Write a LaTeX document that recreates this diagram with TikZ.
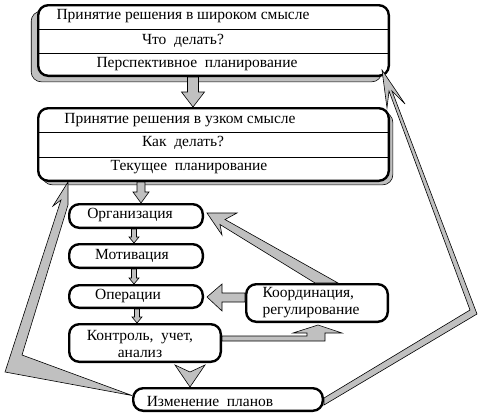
\documentclass[tikz,border=0pt]{standalone}
\usepackage{fontspec}
\setmainfont{Liberation Serif}
\usetikzlibrary{calc,shadows}
\definecolor{silver}{RGB}{192,192,192}
\newcommand{\fatdown}[6]{%
  \draw[fatarrow] ($(#1.south -| #3,0)+(-#4,0)$) -- ($(#2.north -| #3,0)+(-#4,-#6)$)
    -- ($(#2.north -| #3,0)+(-#5,-#6)$) -- (#2.north -| #3,0)
    -- ($(#2.north -| #3,0)+(#5,-#6)$) -- ($(#2.north -| #3,0)+(#4,-#6)$)
    -- ($(#1.south -| #3,0)+(#4,0)$) -- cycle;}

\begin{document}
\begin{tikzpicture}[x=1pt, y=-1pt,
                    every node/.style={font=\fontsize{15.5}{17}\selectfont},
                    bigbox/.style={draw, line width=2.4pt, rounded corners=10pt, fill=white,
                                   inner sep=0pt},
                    smallbox/.style={draw, line width=2.4pt, rounded corners=10pt, fill=white,
                                     inner sep=0pt},
                    rowline/.style={line width=0.8pt},
                    fatarrow/.style={draw=black, line width=0.6pt, fill=silver, line join=miter}]
                    \useasboundingbox (0,0) rectangle (482,418);
                    \node[bigbox, minimum width=350.6pt, minimum height=70.6pt,
                          general shadow={shadow xshift=-7pt, shadow yshift=-6pt, fill=silver,
                                          draw=black, line width=0.6pt}]
                          (wide) at (213.5,40.5) {};
                    \draw[rowline] (wide.west |- 0,29) -- (wide.east |- 0,29);
                    \draw[rowline] (wide.west |- 0,53) -- (wide.east |- 0,53);
                    \node (wideA) at (183,16) {Принятие решения в широком смысле};
                    \node (wideB) at (183,41) {Что~ делать?};
                    \node (wideC) at (197,64) {Перспективное~ планирование};
                    \node[bigbox, minimum width=350.6pt, minimum height=72.6pt,
                          general shadow={shadow xshift=4pt, shadow yshift=-4pt, fill=silver,
                                          draw=black, line width=0.6pt}]
                          (narrow) at (213.5,144.5) {};
                    \draw[rowline] (narrow.west |- 0,132) -- (narrow.east |- 0,132);
                    \draw[rowline] (narrow.west |- 0,157) -- (narrow.east |- 0,157);
                    \node (narrowA) at (180,120) {Принятие решения в узком смысле};
                    \node (narrowB) at (183,143) {Как~ делать?};
                    \node (narrowC) at (189,167) {Текущее~ планирование};
                    \node[smallbox, minimum width=133.6pt, minimum height=23.6pt] (org) at (136,216) {};
                    \node (orgT) at (130,215) {Организация};
                    \node[smallbox, minimum width=133.6pt, minimum height=23.6pt] (motiv) at (136,256) {};
                    \node (motivT) at (132,256) {Мотивация};
                    \node[smallbox, minimum width=133.6pt, minimum height=22.6pt] (oper) at (136,296.5) {};
                    \node (operT) at (128,296) {Операции};
                    \node[smallbox, minimum width=151.6pt, minimum height=37.6pt] (kontr) at (145,343) {};
                    \node (kontrT) at (140,344) [align=center] {Контроль,~ учет,\\анализ};
                    \node[smallbox, minimum width=141.6pt, minimum height=37.6pt] (koord) at (317,303) {};
                    \node (koordT) at (259,303) [anchor=west, align=left] {Координация,\\регулирование};
                    \node[smallbox, minimum width=189.6pt, minimum height=22.6pt] (izm) at (228,399.5) {};
                    \node (izmT) at (210,401) {Изменение~ планов};
                    \fatdown{wide}{narrow}{193}{5.5}{11.5}{15}
                    \fatdown{narrow}{org}{141}{4}{8}{11}
                    \fatdown{org}{motiv}{134}{2.5}{5}{6}
                    \fatdown{motiv}{oper}{134}{2.5}{5}{6}
                    \fatdown{oper}{kontr}{137}{2.5}{5}{6}
                    \coordinate (vtip) at (izm.north -| 190,0);
                    \draw[fatarrow] ($(vtip)+(-15,-22)$) -- ($(vtip)+(0,-15)$)
                          -- ($(vtip)+(15,-22)$) -- (vtip) -- cycle;
                    \coordinate (htip) at ($(oper.east |- 0,297)+(3,0)$);
                    \draw[fatarrow] (koord.west |- 0,293) -- ($(htip)+(15,-4)$) -- ($(htip)+(15,-13)$)
                          -- (htip) -- ($(htip)+(15,14)$) -- ($(htip)+(15,5)$)
                          -- (koord.west |- 0,302) -- cycle;
                    \coordinate (ktip) at ($(koord.south -| 318,0)+(0,2)$);
                    \draw[fatarrow] (kontr.east |- 0,336) -- ($(ktip)+(-11,11)$) -- ($(ktip)+(-11,8)$)
                          -- ($(ktip)+(-25,8)$) -- (ktip) -- ($(ktip)+(24,8)$) -- ($(ktip)+(7,8)$)
                          -- ($(ktip)+(7,16)$) -- (kontr.east |- 0,341) -- cycle;
                    \coordinate (otip) at ($(org.east)+(3,-3)$);
                    \draw[fatarrow] (otip) -- +(30,0) -- +(18,6.5) -- ($(koord.north)+(21,0)$)
                          -- ($(koord.north)+(-2,0)$) -- ($(otip)+(13,11.5)$) -- ($(otip)+(15,22)$)
                          -- cycle;
                    \coordinate (ltip) at (narrow.south -| 68,0);
                    \draw[fatarrow] (ltip) -- ($(ltip)+(0,23)$) -- (22,355) -- ($(izm.west)+(0,-4)$)
                          -- (5,372) -- ($(ltip)+(-7,18)$) -- ($(ltip)+(-15,24)$) -- cycle;
                    \coordinate (rtip) at ($(wide.south -| 382,0)+(0,-7)$);
                    \draw[fatarrow] (rtip) -- +(23,34) -- +(10,21) -- (477,314)
                          -- ($(izm.east)+(0,5.5)$) -- ($(izm.east)+(0,-1.5)$) -- (470,310)
                          -- ($(rtip)+(7,21)$) -- ($(rtip)+(5,38)$) -- cycle;
                \end{tikzpicture}
\end{document}
